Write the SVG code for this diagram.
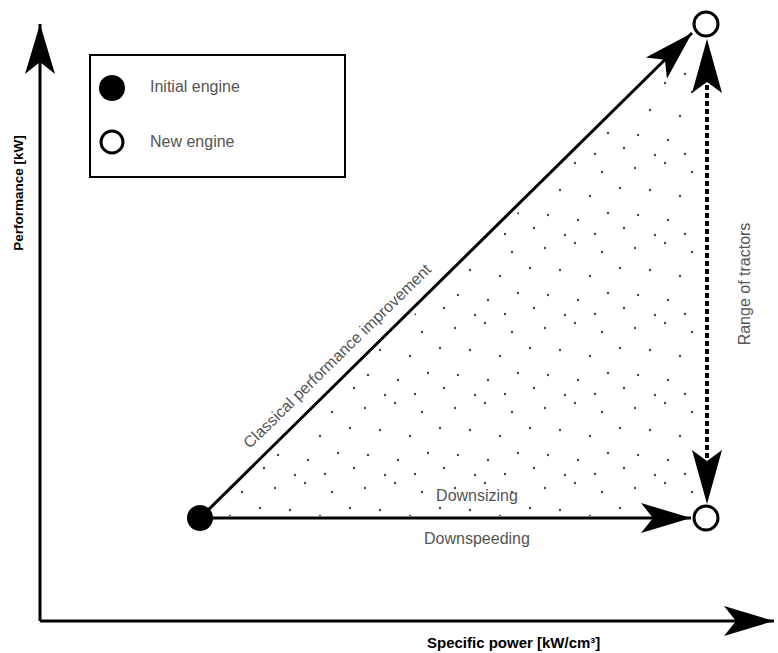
<svg xmlns="http://www.w3.org/2000/svg" width="778" height="653" viewBox="0 0 778 653">
<style>
.ln{stroke:#000;stroke-width:3;fill:none}
.lbl{font-family:"Liberation Sans",Arial,sans-serif;font-size:16px;fill:#555}
.ax{font-family:"Liberation Sans",Arial,sans-serif;font-weight:bold;fill:#000}
.dot{fill:#444}
</style>
<defs>
<marker id="ah" markerUnits="userSpaceOnUse" viewBox="-50 -16 52 32" refX="0" refY="0" markerWidth="52" markerHeight="32" orient="auto">
<path d="M0,0 L-50,-15 L-38,0 L-50,15 Z" fill="#000"/>
</marker>
<pattern id="stip" patternUnits="userSpaceOnUse" x="0" y="0" width="90" height="80">
<circle class="dot" cx="5" cy="8" r="1.2"/>
<circle class="dot" cx="35" cy="3" r="1.2"/>
<circle class="dot" cx="62" cy="12" r="1.2"/>
<circle class="dot" cx="20" cy="30" r="1.2"/>
<circle class="dot" cx="50" cy="36" r="1.2"/>
<circle class="dot" cx="80" cy="28" r="1.2"/>
<circle class="dot" cx="8" cy="55" r="1.2"/>
<circle class="dot" cx="38" cy="60" r="1.2"/>
<circle class="dot" cx="68" cy="53" r="1.2"/>
<circle class="dot" cx="25" cy="75" r="1.2"/>
<circle class="dot" cx="55" cy="74" r="1.2"/>
<circle class="dot" cx="84" cy="68" r="1.2"/>
</pattern>
</defs>
<rect width="778" height="653" fill="#fff"/>
<g id="stipple">
<polygon points="210,516 697,36 697,516" fill="url(#stip)"/>
</g>
<g id="axes">
<line class="ln" x1="40" y1="621" x2="40" y2="24" marker-end="url(#ah)"/>
<line class="ln" x1="40" y1="621" x2="774" y2="621" marker-end="url(#ah)"/>
<text class="ax" font-size="13.5" transform="translate(23,193) rotate(-90)" text-anchor="middle">Performance [kW]</text>
<text class="ax" font-size="15" x="427" y="648">Specific power [kW/cm³]</text>
</g>
<g id="legend">
<rect x="90" y="55" width="255" height="122" fill="#fff" stroke="#000" stroke-width="2"/>
<circle cx="112" cy="88" r="13" fill="#000"/>
<circle cx="112" cy="142" r="11" fill="#fff" stroke="#000" stroke-width="3"/>
<text class="lbl" x="150" y="92">Initial engine</text>
<text class="lbl" x="150" y="147">New engine</text>
</g>
<g id="connectors">
<line class="ln" x1="200" y1="518" x2="692" y2="33" marker-end="url(#ah)"/>
<line class="ln" x1="200" y1="518" x2="691" y2="518" marker-end="url(#ah)"/>
<line x1="707" y1="85" x2="707" y2="460" stroke="#000" stroke-width="4" stroke-dasharray="5,3"/>
<path d="M707,39 L692,93 L707,82 L722,93 Z" fill="#000"/>
<path d="M707,504 L692,450 L707,461 L722,450 Z" fill="#000"/>
<text class="lbl" transform="translate(341,360) rotate(-44.4)" text-anchor="middle">Classical performance improvement</text>
<text class="lbl" x="477" y="501" text-anchor="middle">Downsizing</text>
<text class="lbl" x="477" y="544" text-anchor="middle">Downspeeding</text>
<text class="lbl" font-size="17" transform="translate(750,284) rotate(-90)" text-anchor="middle">Range of tractors</text>
</g>
<g id="node-initial">
<circle cx="200" cy="518" r="13" fill="#000"/>
</g>
<g id="node-new-top">
<circle cx="706" cy="24" r="12" fill="#fff" stroke="#000" stroke-width="3"/>
</g>
<g id="node-new-right">
<circle cx="706" cy="518" r="12" fill="#fff" stroke="#000" stroke-width="3"/>
</g>
</svg>
